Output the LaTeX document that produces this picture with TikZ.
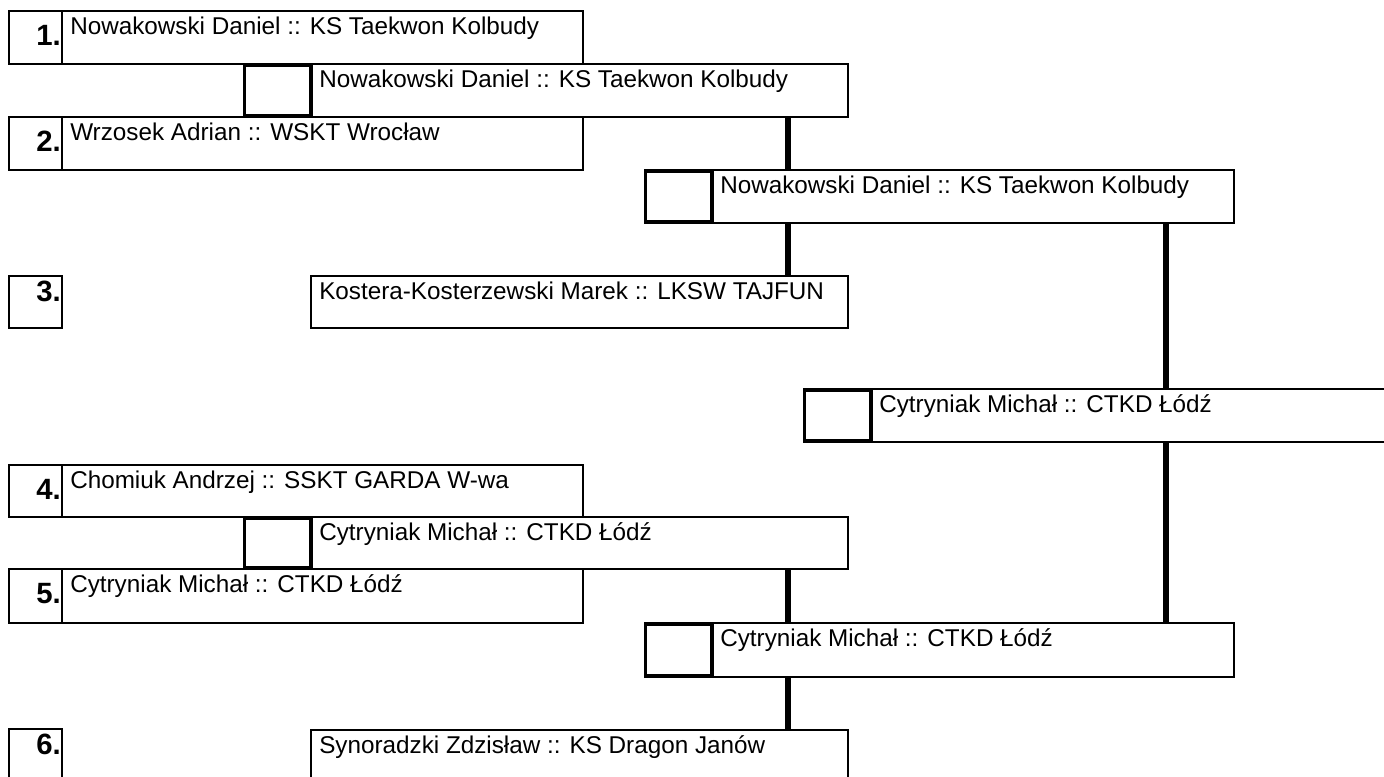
\documentclass[tikz,border=0pt]{standalone}
\usepackage{fontspec}
\setmainfont{Liberation Sans}
\usetikzlibrary{fit}
\begin{document}
\begin{tikzpicture}[x=0.75pt,y=-0.75pt,
  cell/.style={draw, line width=1pt, inner sep=0pt, outer sep=0pt},
  sq/.style={draw, line width=2.6pt, inner sep=0pt, outer sep=0pt},
  conn/.style={line width=5pt},
  nametext/.style={anchor=base west, inner sep=0pt, font=\fontsize{18.2}{20}\selectfont},
  numtext/.style={anchor=base east, inner sep=0pt, font=\fontsize{22}{24}\selectfont\bfseries}]
\useasboundingbox (0,0) rectangle (1384,776);

% column x positions of connectors
\coordinate (xl) at (788,0);
\coordinate (xr) at (1166,0);

% ---------- seeds ----------
\node[cell, fit={(9,11)(62,64)}] (n1) {};
\node[cell, fit={(62,11)(583,64)}] (s1) {};
\node[numtext] (t1n) at (61,45) {1.};
\node[nametext] (t1) at (70,34) {Nowakowski Daniel :: KS Taekwon Kolbudy};

\node[cell, fit={(9,117)(62,170)}] (n2) {};
\node[cell, fit={(62,117)(583,170)}] (s2) {};
\node[numtext] (t2n) at (61,151) {2.};
\node[nametext] (t2) at (70,140) {Wrzosek Adrian :: WSKT Wrocław};

\node[cell, fit={(9,276)(62,328)}] (n3) {};
\node[numtext] (t3n) at (61,301) {3.};

\node[cell, fit={(9,465)(62,517)}] (n4) {};
\node[cell, fit={(62,465)(583,517)}] (s4) {};
\node[numtext] (t4n) at (61,499) {4.};
\node[nametext] (t4) at (70,488) {Chomiuk Andrzej :: SSKT GARDA W-wa};

\node[cell, fit={(9,569)(62,623)}] (n5) {};
\node[cell, fit={(62,569)(583,623)}] (s5) {};
\node[numtext] (t5n) at (61,603) {5.};
\node[nametext] (t5) at (70,592) {Cytryniak Michał :: CTKD Łódź};

\node[cell, fit={(9,729)(62,790)}] (n6) {};
\node[numtext] (t6n) at (61,754) {6.};

% ---------- round 1 ----------
\node[cell, fit={(311,64)(848,117)}] (a) {};
\node[sq, fit={(244.5,65)(311,116)}] (aq) {};
\node[nametext] (ta) at (319,87) {Nowakowski Daniel :: KS Taekwon Kolbudy};

\node[cell, fit={(311,276)(848,328)}] (k) {};
\node[nametext] (tk) at (319,299) {Kostera-Kosterzewski Marek :: LKSW TAJFUN};

\node[cell, fit={(311,517)(848,569)}] (d) {};
\node[sq, fit={(244.5,518)(311,568)}] (dq) {};
\node[nametext] (td) at (319,540) {Cytryniak Michał :: CTKD Łódź};

\node[cell, fit={(311,730)(848,790)}] (z) {};
\node[nametext] (tz) at (319,753) {Synoradzki Zdzisław :: KS Dragon Janów};

% ---------- round 2 ----------
\node[cell, fit={(712,170)(1234,223)}] (b) {};
\node[sq, fit={(645.5,171)(712,222)}] (bq) {};
\node[nametext] (tb) at (720,193) {Nowakowski Daniel :: KS Taekwon Kolbudy};

\node[cell, fit={(712,623)(1234,677)}] (e) {};
\node[sq, fit={(645.5,624)(712,676)}] (eq) {};
\node[nametext] (te) at (720,646) {Cytryniak Michał :: CTKD Łódź};

% ---------- final ----------
\node[cell, fit={(871,389)(1400,442)}] (c) {};
\node[sq, fit={(804.5,390)(871,441)}] (cq) {};
\node[nametext] (tc) at (879,412) {Cytryniak Michał :: CTKD Łódź};

% ---------- connectors ----------
\draw[conn] (a.south -| xl) -- (b.north -| xl);
\draw[conn] (b.south -| xl) -- (k.north -| xl);
\draw[conn] (b.south -| xr) -- (c.north -| xr);
\draw[conn] (c.south -| xr) -- (e.north -| xr);
\draw[conn] (d.south -| xl) -- (e.north -| xl);
\draw[conn] (e.south -| xl) -- (z.north -| xl);
\end{tikzpicture}
\end{document}
